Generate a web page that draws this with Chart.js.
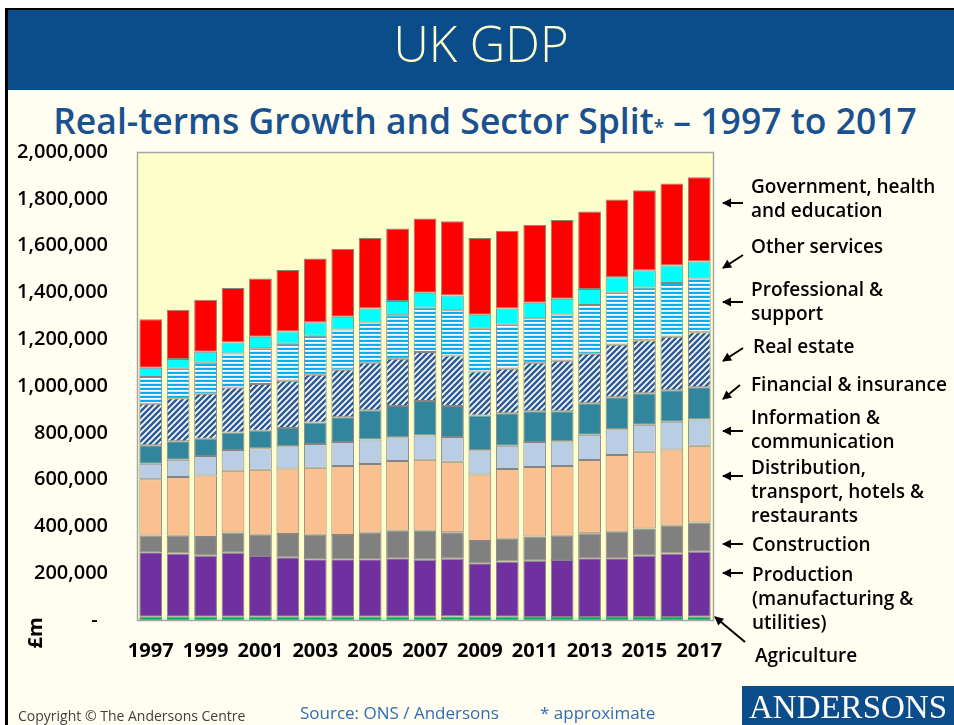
<!DOCTYPE html>
<html>
<head>
<meta charset="utf-8">
<title>UK GDP – Real-terms Growth and Sector Split</title>
<script src="https://cdn.jsdelivr.net/npm/chart.js@4.4.1/dist/chart.umd.min.js"></script>
<style>
  html, body { margin: 0; padding: 0; background: #ffffff; }
  #page { position: relative; width: 954px; height: 725px; overflow: hidden; background: #ffffff; }
  #frame { position: absolute; left: 5px; top: 8px; width: 949px; height: 717px; background: #FFFEF0;
           border-left: 3px solid #000; border-top: 2px solid #000; box-sizing: border-box; }
  #band { position: absolute; left: 8px; top: 10px; width: 946px; height: 80px; background: #0B4D8A; }
  #title { position: absolute; left: 8px; top: 10px; width: 946px; height: 80px; line-height: 80px;
           text-align: center; color: #FFFFCC; font: 300 49px 'Open Sans', sans-serif; white-space: nowrap; }
  #subtitle { position: absolute; left: 0; top: 96px; width: 970px; text-align: center; line-height: 44px;
              color: #1A5191; font: 600 35.5px 'Open Sans', sans-serif; white-space: nowrap; }
  #subtitle .ast { font-size: 19px; }
  #chartBox { position: absolute; left: 0; top: 0; width: 954px; height: 725px; }
  .foot { position: absolute; white-space: nowrap; font-family: 'Open Sans', sans-serif; }
  #copy { left: 18px; top: 706px; font-size: 14px; color: #404040; }
  #src { left: 300px; top: 701px; font-size: 17px; color: #2F6EB5; }
  #approx { left: 540px; top: 701px; font-size: 17px; color: #2F6EB5; }
  #logo { position: absolute; left: 742px; top: 686px; width: 212px; height: 39px; background: #0B4D8A;
          color: #ffffff; font: 33px 'Liberation Serif', serif; line-height: 42px; text-align: center; }
</style>
</head>
<body>
<div id="page">
  <div id="frame"></div>
  <div id="band"></div>
  <div id="title">UK GDP</div>
  <div id="subtitle">Real-terms Growth and Sector Split<span class="ast">*</span> – 1997 to 2017</div>
  <div id="chartBox"><canvas id="gdp"></canvas></div>
  <div class="foot" id="copy">Copyright © The Andersons Centre</div>
  <div class="foot" id="src">Source: ONS / Andersons</div>
  <div class="foot" id="approx">* approximate</div>
  <div id="logo">ANDERSONS</div>
</div>
<script>
// Gross value added by sector, £m, real terms
const years = ['1997','1998','1999','2000','2001','2002','2003','2004','2005','2006','2007',
               '2008','2009','2010','2011','2012','2013','2014','2015','2016','2017'];

const agriculture   = [14000,14000,14000,14000,14000,14000,14000,14000,14000,14000,14000,
                       15000,14000,14000,13000,13000,13000,13000,13000,13000,14000];
const production    = [276000,270000,261000,273000,259000,254000,246000,246000,246000,250000,244000,
                       247000,229000,236000,240000,243000,251000,251000,262000,271000,278000];
const construction  = [71000,76000,80000,87000,91000,99000,104000,103000,113000,117000,123000,
                       113000,95000,97000,104000,104000,107000,113000,116000,119000,125000];
const distribution  = [241000,251000,263000,264000,278000,280000,287000,295000,294000,299000,304000,
                       301000,284000,298000,297000,298000,313000,328000,328000,326000,328000];
const information   = [66000,74000,83000,89000,92000,95000,101000,103000,104000,101000,103000,
                       106000,103000,100000,107000,106000,108000,110000,115000,118000,112000];
const financial     = [79000,79000,74000,74000,75000,79000,92000,105000,125000,133000,148000,
                       133000,149000,139000,131000,128000,134000,137000,135000,135000,138000];
const realEstate    = [177000,184000,192000,193000,200000,201000,204000,203000,203000,202000,209000,
                       215000,188000,190000,207000,216000,212000,224000,227000,229000,235000];
const professional  = [114000,126000,132000,145000,152000,159000,167000,172000,172000,186000,190000,
                       194000,183000,188000,190000,198000,208000,222000,225000,229000,229000];
const otherServices = [40000,41000,47000,47000,50000,52000,57000,55000,60000,61000,63000,
                       63000,60000,69000,67000,67000,69000,67000,74000,75000,73000];
const government    = [207000,211000,223000,233000,248000,263000,273000,291000,302000,310000,318000,
                       317000,327000,332000,333000,336000,331000,332000,342000,350000,360000];

// Sector names, split into the lines used beside the chart (bottom of stack first)
const sectorLines = [
  ['Agriculture'],
  ['Production', '(manufacturing &', 'utilities)'],
  ['Construction'],
  ['Distribution,', 'transport, hotels &', 'restaurants'],
  ['Information &', 'communication'],
  ['Financial & insurance'],
  ['Real estate'],
  ['Professional &', 'support'],
  ['Other services'],
  ['Government, health', 'and education']
];
const sectorValues = [agriculture, production, construction, distribution, information,
                      financial, realEstate, professional, otherServices, government];

const yTicks = { min: 0, max: 2000000, step: 200000 };
const unitLabel = '£m';

// Fill patterns
function diagonalHatch() {
  const c = document.createElement('canvas');
  c.width = 6; c.height = 6;
  const g = c.getContext('2d');
  g.fillStyle = '#ffffff';
  g.fillRect(0, 0, 6, 6);
  g.strokeStyle = '#2F5D9B';
  g.lineWidth = 2.6;
  g.beginPath();
  for (const k of [-6, 0, 6, 12]) {
    g.moveTo(k - 6, 12); // rising "/" stripes
    g.lineTo(k + 12, -6);
  }
  g.stroke();
  return g.createPattern(c, 'repeat');
}
function horizontalStripes() {
  const c = document.createElement('canvas');
  c.width = 4; c.height = 4;
  const g = c.getContext('2d');
  g.fillStyle = '#ffffff';
  g.fillRect(0, 0, 4, 4);
  g.fillStyle = '#00B0F0';
  g.fillRect(0, 0, 4, 2);
  g.fillStyle = '#C8EEFB';
  g.fillRect(0, 3, 4, 1);
  return g.createPattern(c, 'repeat');
}

const fills = ['#00B050', '#7030A0', '#808080', '#FAC090', '#B9CDE5',
               '#31859C', diagonalHatch(), horizontalStripes(), '#00FFFF', '#FF0000'];

const datasets = sectorValues.map((vals, i) => ({
  label: sectorLines[i].join(' '),
  data: vals,
  backgroundColor: fills[i],
  borderColor: '#858585',
  borderWidth: 1,
  borderSkipped: false,
  barPercentage: 0.83,
  categoryPercentage: 1.0
}));

// Plot background and frame
const plotFrame = {
  id: 'plotFrame',
  beforeDatasetsDraw(chart, args, opts) {
    const { ctx, chartArea: a } = chart;
    ctx.save();
    ctx.fillStyle = opts.fill;
    ctx.fillRect(a.left, a.top, a.right - a.left, a.bottom - a.top);
    ctx.restore();
  },
  afterDatasetsDraw(chart, args, opts) {
    const { ctx, chartArea: a } = chart;
    ctx.save();
    ctx.strokeStyle = opts.stroke;
    ctx.lineWidth = 1.5;
    ctx.strokeRect(a.left + 0.5, a.top + 0.5, a.right - a.left, a.bottom - a.top);
    ctx.restore();
  }
};

// Sector names with pointer arrows to the right of the bars, plus the unit label
const sectorNotes = {
  id: 'sectorNotes',
  afterDraw(chart, args, opts) {
    const ctx = chart.ctx;
    ctx.save();
    ctx.fillStyle = opts.color;
    ctx.strokeStyle = opts.color;
    ctx.font = opts.font;
    ctx.textAlign = 'left';
    ctx.textBaseline = 'middle';
    opts.items.forEach((it, i) => {
      sectorLines[i].forEach((line, j) => {
        ctx.fillText(line, it.x, it.y + j * opts.lineGap);
      });
      const [x1, y1, x2, y2] = it.arrow;
      ctx.lineWidth = 2;
      ctx.beginPath();
      ctx.moveTo(x1, y1);
      ctx.lineTo(x2, y2);
      ctx.stroke();
      const ang = Math.atan2(y2 - y1, x2 - x1);
      const L = 8, W = 4.5;
      ctx.beginPath();
      ctx.moveTo(x2 + Math.cos(ang) * 1, y2 + Math.sin(ang) * 1);
      ctx.lineTo(x2 - L * Math.cos(ang) + W * Math.sin(ang), y2 - L * Math.sin(ang) - W * Math.cos(ang));
      ctx.lineTo(x2 - L * Math.cos(ang) - W * Math.sin(ang), y2 - L * Math.sin(ang) + W * Math.cos(ang));
      ctx.closePath();
      ctx.fill();
    });
    // unit label, reading upwards
    ctx.translate(opts.unit.x, opts.unit.y);
    ctx.rotate(-Math.PI / 2);
    ctx.font = opts.unit.font;
    ctx.textAlign = 'center';
    ctx.fillText(unitLabel, 0, 0);
    ctx.restore();
  }
};

new Chart(document.getElementById('gdp'), {
  type: 'bar',
  data: { labels: years, datasets },
  plugins: [plotFrame, sectorNotes],
  options: {
    responsive: true,
    maintainAspectRatio: false,
    animation: false,
    devicePixelRatio: 1,
    layout: { padding: { left: 0, right: 241, top: 152, bottom: 65 } },
    plugins: {
      legend: { display: false },
      tooltip: { enabled: false },
      plotFrame: { fill: '#FFFFCC', stroke: '#A6A6A6' },
      sectorNotes: {
        color: '#000000',
        font: "600 19px 'Open Sans', sans-serif",
        lineGap: 24,
        unit: { x: 36, y: 633, font: "bold 20px 'Open Sans', sans-serif" },
        items: [
          { x: 755, y: 657, arrow: [745, 642, 715, 617] },
          { x: 752, y: 576, arrow: [743, 573, 723, 573] },
          { x: 752, y: 546, arrow: [743, 544, 723, 544] },
          { x: 751, y: 469, arrow: [743, 476, 723, 476] },
          { x: 751, y: 419, arrow: [743, 431, 723, 431] },
          { x: 751, y: 386, arrow: [740, 385, 723, 399] },
          { x: 753, y: 348, arrow: [743, 348, 723, 361] },
          { x: 751, y: 291, arrow: [743, 302, 723, 302] },
          { x: 751, y: 248, arrow: [743, 255, 723, 268] },
          { x: 751, y: 188, arrow: [743, 203, 723, 203] }
        ]
      }
    },
    scales: {
      x: {
        stacked: true,
        grid: { display: false, drawTicks: false },
        border: { display: false },
        ticks: {
          autoSkip: false,
          maxRotation: 0,
          padding: 19,
          color: '#000000',
          font: { family: "'Open Sans', sans-serif", size: 20, weight: 'bold' },
          callback: (v, i) => (i % 2 === 0 ? years[i] : '')
        },
        afterFit: (s) => { s.height = 40; }
      },
      y: {
        stacked: true,
        min: yTicks.min,
        max: yTicks.max,
        grid: { display: false, drawTicks: false },
        border: { display: false },
        ticks: {
          stepSize: yTicks.step,
          padding: 29,
          color: '#000000',
          font: { family: "'Open Sans', sans-serif", size: 20, weight: '600' },
          callback: (v) => (v === 0 ? '-  ' : Number(v).toLocaleString('en-US'))
        },
        afterFit: (s) => { s.width = 137; }
      }
    }
  }
});
</script>
</body>
</html>
